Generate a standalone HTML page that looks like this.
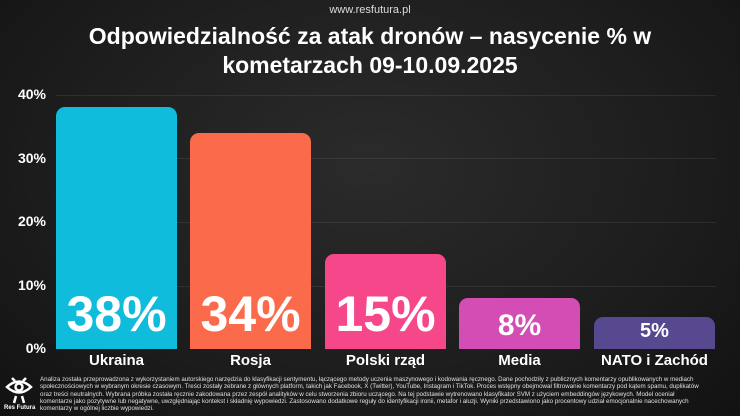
<!DOCTYPE html>
<html><head><meta charset="utf-8"><style>
body{margin:0;width:740px;height:416px;overflow:hidden;background:radial-gradient(ellipse at 50% 40%,#2b2b2b 0%,#1d1d1d 60%,#121212 100%);font-family:"Liberation Sans","DejaVu Sans",sans-serif;color:#fff;position:relative}
.a{position:absolute}
.t{left:0;width:740px;text-align:center;font-weight:bold}
.tick{left:8px;width:38px;text-align:right;font-weight:bold;font-size:14px}
.g{left:56px;width:660px;height:1px;background:rgba(255,255,255,0.08)}
.bar{border-radius:9px 9px 0 0;bottom:67px}
.v{left:0;right:0;text-align:center;font-weight:bold}
.lab{width:121px;text-align:center;font-weight:bold;font-size:15px;top:352px}
</style></head><body>
<div class="a t" style="top:4px;font-size:11px;font-weight:normal;color:#ddd">www.resfutura.pl</div>
<div class="a t" style="top:22px;font-size:23px;line-height:29px">Odpowiedzialność za atak dronów – nasycenie % w<br>kometarzach 09-10.09.2025</div>
<div class="a tick" style="top:86px">40%</div>
<div class="a tick" style="top:150px">30%</div>
<div class="a tick" style="top:213px">20%</div>
<div class="a tick" style="top:277px">10%</div>
<div class="a tick" style="top:340px">0%</div>
<div class="a g" style="top:95px"></div>
<div class="a g" style="top:158px"></div>
<div class="a g" style="top:222px"></div>
<div class="a g" style="top:286px"></div>
<div class="a bar" style="left:56px;width:121px;top:107px;background:#0fbcdc"><div class="a v" style="bottom:6px;font-size:50px">38%</div></div>
<div class="a bar" style="left:190px;width:121px;top:133px;background:#fb6a4a"><div class="a v" style="bottom:6px;font-size:50px">34%</div></div>
<div class="a bar" style="left:325px;width:121px;top:254px;background:#f5478a"><div class="a v" style="bottom:6px;font-size:50px">15%</div></div>
<div class="a bar" style="left:459px;width:121px;top:298px;background:#d44db5"><div class="a v" style="bottom:6px;font-size:30px">8%</div></div>
<div class="a bar" style="left:594px;width:121px;top:317px;background:#574890"><div class="a v" style="bottom:6px;font-size:20px">5%</div></div>
<div class="a lab" style="left:56px">Ukraina</div>
<div class="a lab" style="left:190px">Rosja</div>
<div class="a lab" style="left:325px">Polski rząd</div>
<div class="a lab" style="left:459px">Media</div>
<div class="a lab" style="left:594px">NATO i Zachód</div>
<svg class="a" style="left:4px;top:374px" width="30" height="30" viewBox="0 0 30 30" fill="none" stroke="#fff" stroke-width="2.5"><path d="M3 13 Q15 2 27 13 Q15 24 3 13Z"/><circle cx="15" cy="13" r="3.5"/><path d="M8 4 L11 7 M22 4 L19 7 M12 22 L10 29 M18 22 L20 29"/></svg>
<div class="a" style="left:4px;top:405px;font-size:6px;font-weight:bold">Res Futura</div>
<div class="a" style="left:40px;top:376px;width:660px;font-size:6.2px;line-height:7.3px;color:#e0e0e0">Analiza została przeprowadzona z wykorzystaniem autorskiego narzędzia do klasyfikacji sentymentu, łączącego metody uczenia maszynowego i kodowania ręcznego. Dane pochodziły z publicznych komentarzy opublikowanych w mediach społecznościowych w wybranym okresie czasowym. Treści zostały zebrane z głównych platform, takich jak Facebook, X (Twitter), YouTube, Instagram i TikTok. Proces wstępny obejmował filtrowanie komentarzy pod kątem spamu, duplikatów oraz treści neutralnych. Wybrana próbka została ręcznie zakodowana przez zespół analityków w celu stworzenia zbioru uczącego. Na tej podstawie wytrenowano klasyfikator SVM z użyciem embeddingów językowych. Model oceniał komentarze jako pozytywne lub negatywne, uwzględniając kontekst i składnię wypowiedzi. Zastosowano dodatkowe reguły do identyfikacji ironii, metafor i aluzji. Wyniki przedstawiono jako procentowy udział emocjonalnie nacechowanych komentarzy w ogólnej liczbie wypowiedzi.</div>
</body></html>
